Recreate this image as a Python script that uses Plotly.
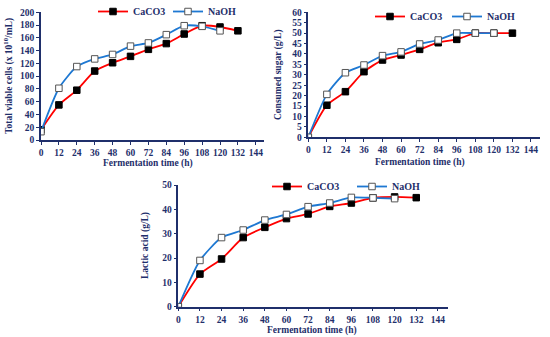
import plotly.graph_objects as go

time_h = [0, 12, 24, 36, 48, 60, 72, 84, 96, 108, 120, 132]
time_naoh = [0, 12, 24, 36, 48, 60, 72, 84, 96, 108, 120]
x_ticks = [0, 12, 24, 36, 48, 60, 72, 84, 96, 108, 120, 132, 144]

cells_caco3 = [16, 55, 78, 108, 121, 131, 142, 151, 166, 179, 177, 171]
cells_naoh = [13, 81, 115, 127, 134, 147, 152, 165, 179, 178, 171]

sugar_caco3 = [0, 15.4, 21.9, 31.5, 37.1, 39.5, 42.2, 45.4, 47.0, 50.0, 50.0, 50.0]
sugar_naoh = [0, 20.6, 31.0, 34.7, 39.2, 41.0, 44.8, 46.7, 50.0, 50.0, 50.0]

lactic_caco3 = [0, 13.4, 19.6, 28.4, 32.6, 36.2, 38.1, 41.2, 42.6, 44.7, 45.1, 44.8]
lactic_naoh = [0, 19.0, 28.4, 31.5, 35.6, 37.9, 41.1, 42.6, 44.9, 44.7, 44.4]

NAVY = "#1F2F6B"
FONT = "Liberation Serif"
W, H = 550, 337

fig = go.Figure()

panels = [
    ("x", "y", cells_caco3, cells_naoh, 200, 20, 41, 264, 140, 12.3, "legend"),
    ("x2", "y2", sugar_caco3, sugar_naoh, 60, 5, 308.3, 539.5, 137.3, 12.3, "legend2"),
    ("x3", "y3", lactic_caco3, lactic_naoh, 50, 10, 178.3, 447.8, 306.7, 185, "legend3"),
]

bold_font = dict(family=FONT, size=10, color=NAVY, weight="bold")
tick_font = dict(family=FONT, size=9.5, color=NAVY, weight="bold")
title_font = dict(family=FONT, size=9.5, color=NAVY, weight="bold")

for i, (xa, ya, c, n, ymax, dt, x0, x1, yb, yt, lg) in enumerate(panels):
    fig.add_trace(go.Scatter(
        x=time_h, y=c, xaxis=xa, yaxis=ya, name="CaCO3", legend=lg,
        mode="lines+markers", line=dict(color="#FF0000", width=1.8, shape="spline", smoothing=0.6),
        marker=dict(symbol="square", size=6.5, color="#000000", line=dict(color="#000000", width=1)),
    ))
    fig.add_trace(go.Scatter(
        x=time_naoh, y=n, xaxis=xa, yaxis=ya, name="NaOH", legend=lg,
        mode="lines+markers", line=dict(color="#1E78D2", width=1.8, shape="spline", smoothing=0.6),
        marker=dict(symbol="square", size=6.5, color="#FFFFFF", line=dict(color="#555555", width=1)),
    ))
    suffix = "" if i == 0 else str(i + 1)
    axis_common = dict(
        showline=True, linecolor=NAVY, linewidth=1.5, showgrid=False, zeroline=False,
        ticks="outside", tickcolor=NAVY, ticklen=3, automargin=False,
        tickfont=tick_font,
    )
    fig.layout["xaxis" + suffix] = dict(
        axis_common, domain=[x0 / W, x1 / W], range=[0, 149.5],
        tickmode="array", tickvals=x_ticks, anchor="y" + suffix,
    )
    fig.layout["yaxis" + suffix] = dict(
        axis_common, domain=[1 - yb / H, 1 - yt / H], range=[0, ymax],
        dtick=dt, tick0=0, anchor="x" + suffix,
    )

legend_style = dict(orientation="h", xanchor="left", yanchor="top",
                    font=bold_font, bgcolor="rgba(0,0,0,0)",
                    entrywidth=30, tracegroupgap=0, itemwidth=30)
fig.update_layout(
    legend=dict(legend_style, x=93 / W, y=1 + 3 / H),
    legend2=dict(legend_style, x=370 / W, y=1 - 2 / H, entrywidth=32),
    legend3=dict(legend_style, x=267 / W, y=1 - 172 / H, entrywidth=40),
)

annots = [
    ("Total viable cells (x 10<sup>10</sup>/mL)", 8, 76, -90),
    ("Fermentation time (h)", 148, 164, 0),
    ("Consumed sugar (g/L)", 278, 75, -90),
    ("Fermentation time (h)", 420, 163, 0),
    ("Lactic acid (g/L)", 145, 246, -90),
    ("Fermentation time (h)", 312, 330, 0),
]
for text, px, py, ang in annots:
    fig.add_annotation(text=text, x=px / W, y=1 - py / H, xref="paper", yref="paper",
                       showarrow=False, textangle=ang, font=title_font,
                       xanchor="center", yanchor="middle")

fig.update_layout(
    width=W, height=H, margin=dict(l=0, r=0, t=0, b=0, autoexpand=False),
    paper_bgcolor="white", plot_bgcolor="white",
    font=dict(family=FONT, size=10, color=NAVY),
)

fig.write_html("out.html", config={"displayModeBar": False},
               post_script="document.body.style.margin='0';document.body.style.overflow='hidden';")
